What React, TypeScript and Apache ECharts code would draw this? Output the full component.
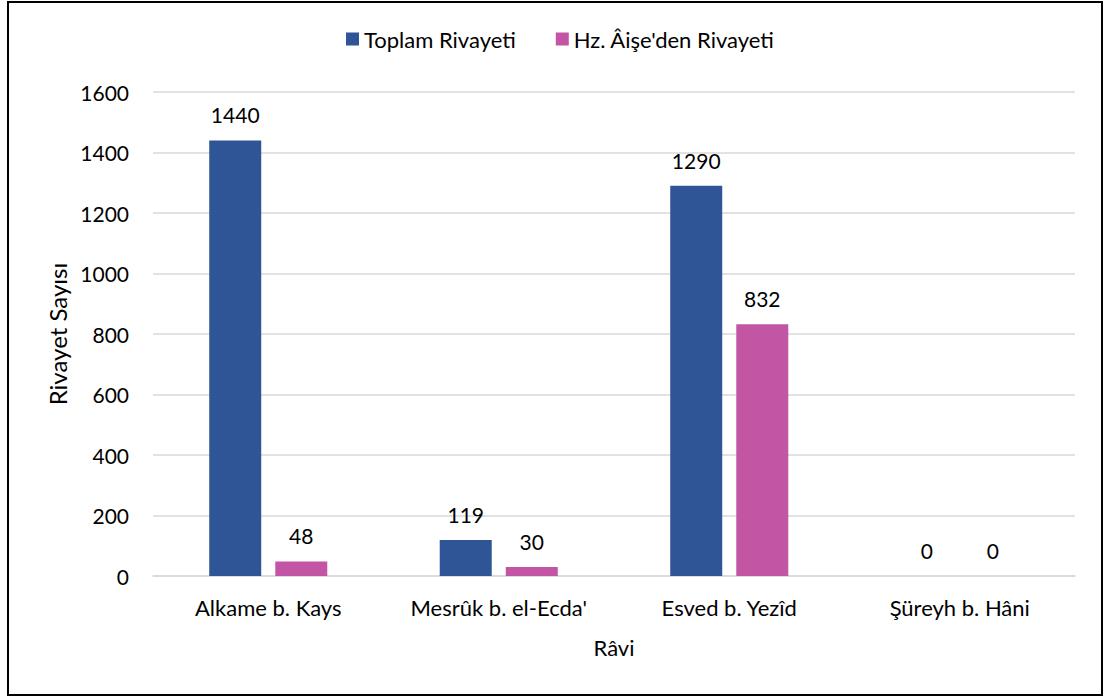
import React, { useEffect, useRef } from "react";
import * as echarts from "echarts";

const categories = ["Alkame b. Kays", "Mesrûk b. el-Ecda'", "Esved b. Yezîd", "Şüreyh b. Hâni"];
const toplamRivayeti = [1440, 119, 1290, 0];
const aiseRivayeti = [48, 30, 832, 0];
const seriesNames = ["Toplam Rivayeti", "Hz. Âişe'den Rivayeti"];
const yTicks = { min: 0, max: 1600, interval: 200 };

const FONT = "Lato";
const TEXT = "#000";

export default function App() {
  const ref = useRef<HTMLDivElement>(null);
  useEffect(() => {
    const chart = echarts.init(ref.current!, null, { renderer: "svg" });
    const labelStyle = {
      show: true,
      position: "top",
      distance: 15,
      fontFamily: FONT,
      fontSize: 21,
      color: TEXT,
    };
    chart.setOption({
      animation: false,
      backgroundColor: "#fff",
      textStyle: { fontFamily: FONT },
      graphic: [
        {
          type: "rect",
          shape: { x: 8, y: 2, width: 1094, height: 693 },
          style: { fill: "none", stroke: "#000", lineWidth: 2 },
          silent: true,
        },
      ],
      legend: {
        top: 23,
        left: 341,
        itemWidth: 13,
        itemHeight: 13,
        itemGap: 40,
        icon: "rect",
        textStyle: { fontFamily: FONT, fontSize: 22, color: TEXT },
        data: seriesNames,
      },
      grid: { left: 153, right: 30, top: 92, bottom: 122 },
      xAxis: {
        type: "category",
        data: categories,
        axisLine: { show: true, lineStyle: { color: "#D9D9D9", width: 1.5 } },
        axisTick: { show: false },
        axisLabel: { fontFamily: FONT, fontSize: 22, color: TEXT, margin: 20 },
        name: "Râvi",
        nameLocation: "middle",
        nameGap: 60,
        nameTextStyle: { fontFamily: FONT, fontSize: 22, color: TEXT },
      },
      yAxis: {
        type: "value",
        min: yTicks.min,
        max: yTicks.max,
        interval: yTicks.interval,
        axisLine: { show: false },
        axisTick: { show: false },
        splitLine: { lineStyle: { color: "#D9D9D9", width: 1.5 } },
        axisLabel: {
          fontFamily: FONT,
          fontSize: 21,
          color: TEXT,
          margin: 24,
          formatter: (v: number) => String(v),
        },
        name: "Rivayet Sayısı",
        nameLocation: "middle",
        nameRotate: 90,
        nameGap: 82,
        nameTextStyle: { fontFamily: FONT, fontSize: 24, color: TEXT },
      },
      series: [
        {
          name: seriesNames[0],
          type: "bar",
          data: toplamRivayeti,
          barWidth: 52,
          barGap: "27%",
          itemStyle: { color: "#2F5597" },
          label: labelStyle,
        },
        {
          name: seriesNames[1],
          type: "bar",
          data: aiseRivayeti,
          barWidth: 52,
          itemStyle: { color: "#C355A5" },
          label: labelStyle,
        },
      ],
    });
    return () => chart.dispose();
  }, []);
  return (
    <div
      ref={ref}
      style={{ position: "fixed", left: 0, top: 0, width: 1105, height: 698 }}
    />
  );
}
